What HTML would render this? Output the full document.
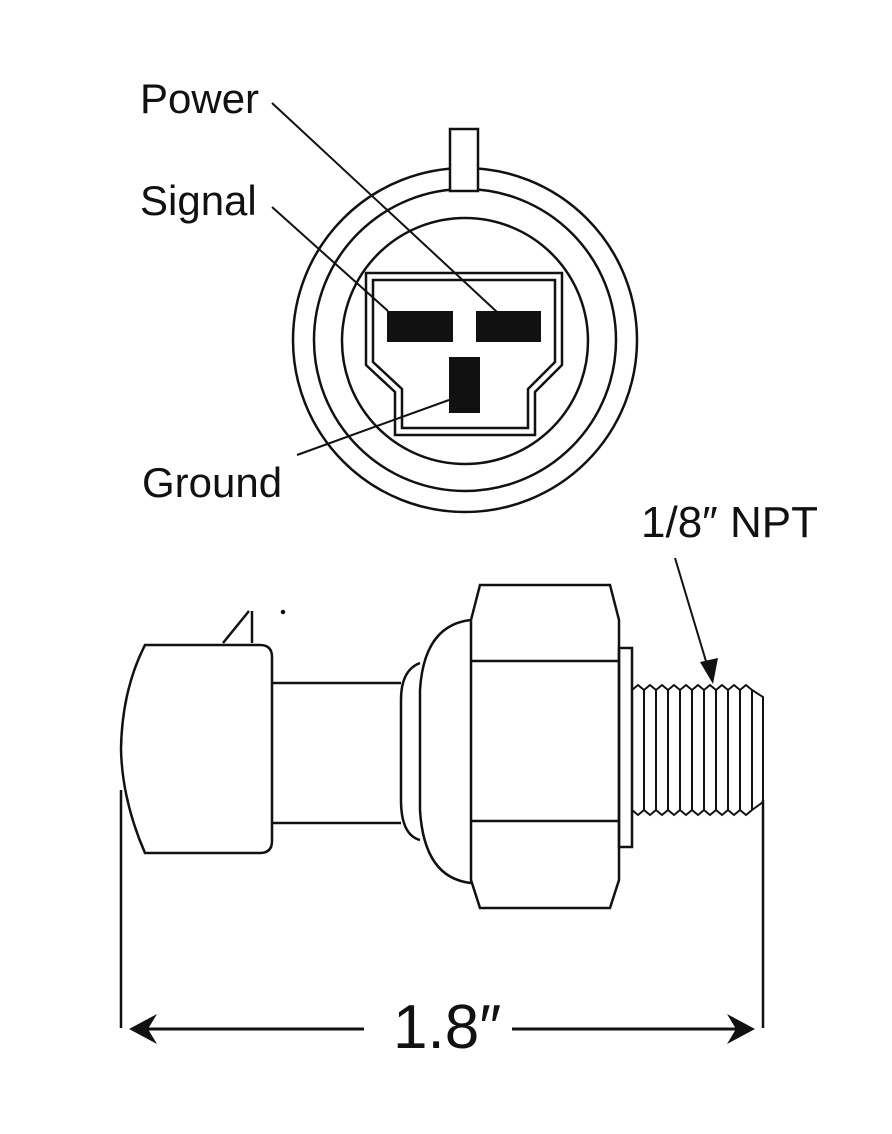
<!DOCTYPE html>
<html><head><meta charset="utf-8"><style>
html,body{margin:0;padding:0;background:#fff;}
svg{display:block;}
text{font-family:"Liberation Sans",sans-serif;fill:#111;}
</style></head><body>
<svg width="892" height="1134" viewBox="0 0 892 1134" xmlns="http://www.w3.org/2000/svg">
<g fill="none" stroke="#111" stroke-width="2.5">
  <!-- front view -->
  <circle cx="465" cy="340" r="172"/>
  <circle cx="465" cy="340" r="151"/>
  <circle cx="465" cy="341" r="123"/>
  <rect x="450" y="129" width="28" height="62" fill="#fff"/>
  <path d="M366 273 H562 V365 L535 392 V435 H395 V392 L366 365 Z"/>
  <path d="M373 280 H555 V362 L528 389 V428 H402 V389 L373 362 Z"/>
  <line x1="272" y1="103" x2="497" y2="312" stroke-width="2"/>
  <line x1="272" y1="207" x2="388" y2="311" stroke-width="2"/>
  <line x1="297" y1="455" x2="449" y2="400" stroke-width="2"/>
</g>
<rect x="387" y="311" width="66" height="31" fill="#111"/>
<rect x="476" y="311" width="65" height="31" fill="#111"/>
<rect x="449" y="357" width="31" height="56" fill="#111"/>
<text x="140" y="113" font-size="42">Power</text>
<text x="140" y="215" font-size="42">Signal</text>
<text x="142" y="497" font-size="42">Ground</text>

<!-- side view -->
<g fill="none" stroke="#111" stroke-width="2.5">
  <path d="M145 645 H260 Q272 645 272 657 V841 Q272 853 260 853 H145 Q122 800 121 749 Q122 690 145 645 Z"/>
  <path d="M223 643 L249 611 M252 611 V643"/>
  <circle cx="283" cy="612" r="1" fill="#111"/>
  <path d="M272 683 H401 M272 823 H401"/>
  <path d="M420 663 Q401 670 401 700 V800 Q401 835 420 840"/>
  <path d="M471 620 Q424 625 420 690 V810 Q424 878 471 883"/>
  <path d="M480 585 H610 L619 620 V880 L610 908 H480 L471 880 V620 Z"/>
  <path d="M471 661 H619 M471 821 H619"/>
  <rect x="619" y="648" width="13" height="199"/>
  <path d="M632 690 L638 685 L644 690 L650 685 L656 690 L662 685 L668 690 L674 685 L680 690 L686 685 L692 690 L698 685 L704 690 L710 685 L716 690 L722 685 L728 690 L734 685 L740 690 L746 685 L752 690 L763 697 V802 L752 810 L746 815 L740 810 L734 815 L728 810 L722 815 L716 810 L710 815 L704 810 L698 815 L692 810 L686 815 L680 810 L674 815 L668 810 L662 815 L656 810 L650 815 L644 810 L638 815 L632 810" stroke-width="2"/>
  <path d="M644 690 V810 M656 690 V810 M668 690 V810 M680 690 V810 M692 690 V810 M704 690 V810 M716 690 V810 M728 690 V810 M740 690 V810 M752 690 V810" stroke-width="2"/>
  <line x1="675" y1="558" x2="708" y2="668" stroke-width="2"/>
  <!-- dimension -->
  <line x1="121" y1="790" x2="121" y2="1028"/>
  <line x1="763" y1="800" x2="763" y2="1028"/>
  <line x1="140" y1="1029" x2="364" y2="1029" stroke-width="3"/>
  <line x1="512" y1="1029" x2="745" y2="1029" stroke-width="3"/>
</g>
<polygon points="713,684 700,662 718,658" fill="#111"/>
<polygon points="129,1029 157,1014 148,1029 157,1044" fill="#111"/>
<polygon points="755,1029 727,1014 736,1029 727,1044" fill="#111"/>
<text x="641" y="537" font-size="44">1/8″ NPT</text>
<text x="393" y="1048" font-size="62">1.8″</text>
</svg>
</body></html>
